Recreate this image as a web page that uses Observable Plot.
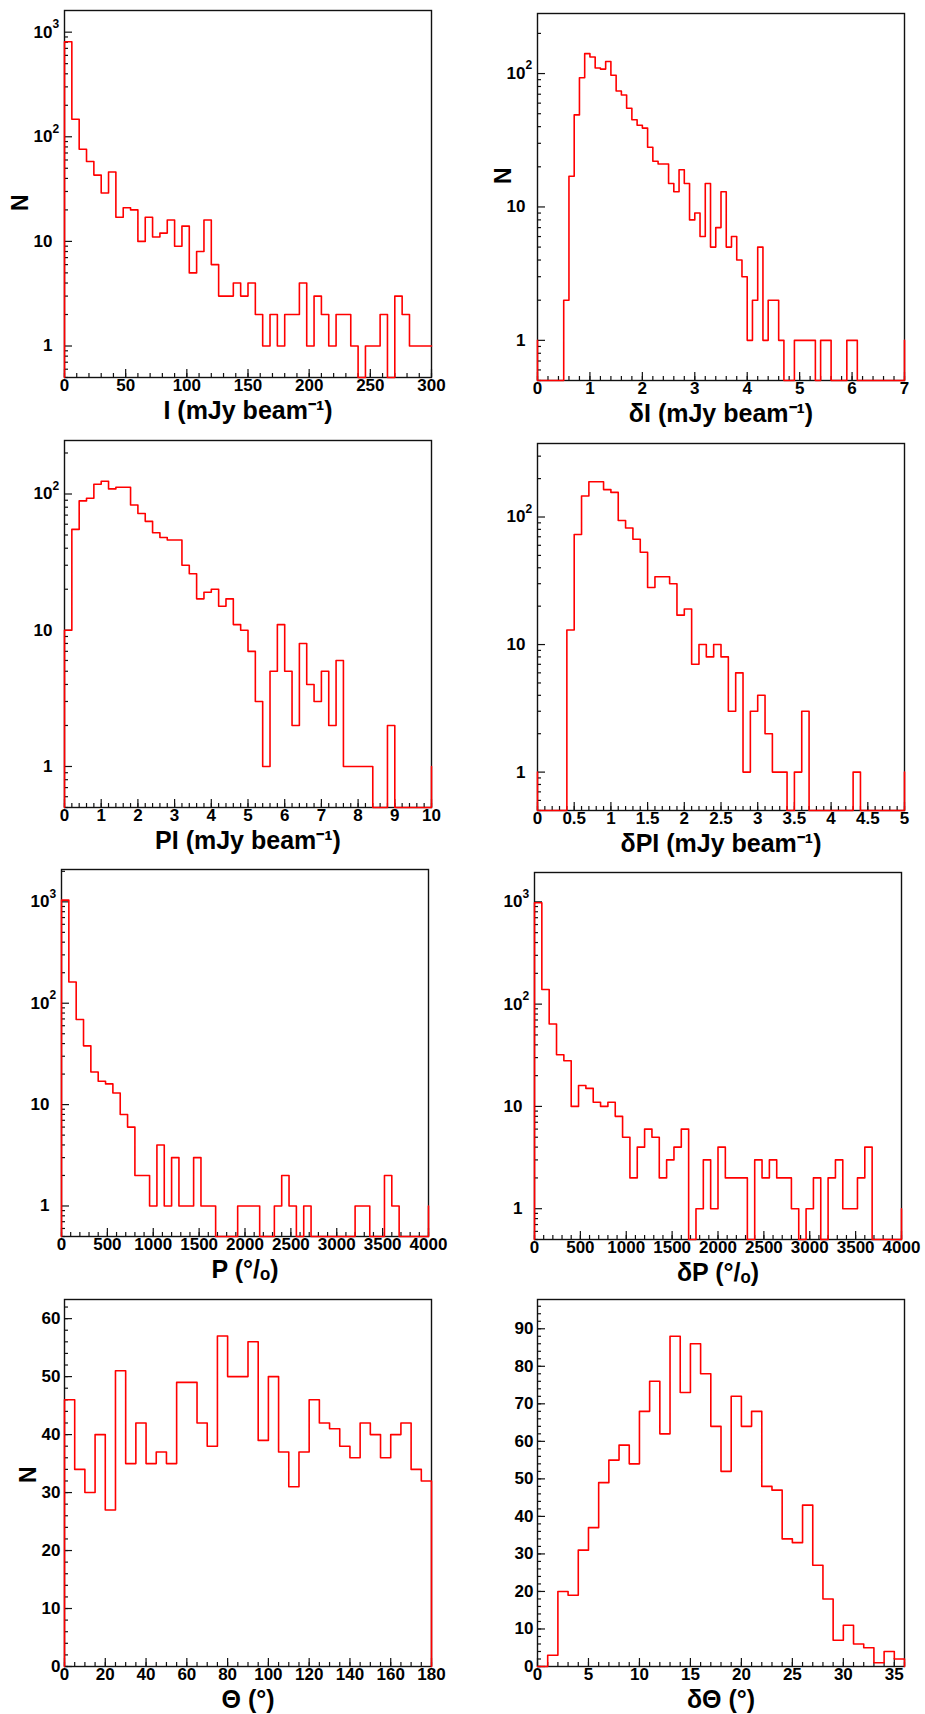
<!DOCTYPE html>
<html><head><meta charset="utf-8">
<script src="https://cdn.jsdelivr.net/npm/d3@7"></script>
<script src="https://cdn.jsdelivr.net/npm/@observablehq/plot@0.6"></script>
<style>
body{margin:0;background:#fff;}
#wrap{position:relative;width:925px;height:1714px;background:#fff;overflow:hidden;}
#wrap svg{position:absolute;}
</style></head><body><div id="wrap"></div>
<script>
// ---------------- data (bin counts) ----------------
const countsI = [811,147,76,58,43,29,46,17,21,20, 10,17,11,12,16,9,14,5,8,16, 6,3,3,4,3,4,2,1,2,1, 2,2,4,1,3,2,1,2,2,1, 0,1,1,2,0,3,2,1,1,1];
const countsDI = [0,0,0,0,0,2,17,49,93,141, 133,110,108,123,97,74,69,55,45,41, 39,28,22,21,21,15,13,19,15,8, 9,6,15,5,7,13,5,6,4,3, 1,2,5,1,2,2,1,0,0,1, 1,1,1,0,1,1,0,0,0,1, 1,0,0,0,0,0,0,0,0,0];
const countsPI = [10,55,89,93,118,124,109,112,112,83, 72,63,52,48,46,46,30,26,17,19, 20,15,17,11,10,7,3,1,5,11, 5,2,8,4,3,5,2,6,1,1, 1,1,0,0,2,0,0,0,0,0];
const countsDPI = [0,0,0,0,13,73,146,189,189,164, 156,94,82,67,53,28,34,34,30,17, 19,7,10,8,10,8,3,6,1,3, 4,2,1,1,0,1,3,0,0,0, 0,0,0,1,0,0,0,0,0,0];
const countsP = [1039,162,69,38,21,17,16,13,8,6, 2,2,1,4,1,3,1,1,3,1, 1,0,0,0,1,1,1,0,0,1, 2,1,0,1,0,0,0,0,0,0, 1,1,0,0,2,1,0,0,0,0];
const countsDP = [980,139,64,32,28,10,16,15,11,10, 11,8,5,2,4,6,5,2,3,4, 6,0,1,3,1,4,2,2,2,0, 3,2,3,2,2,1,0,1,2,0, 2,3,1,1,2,4,0,0,0,0];
const countsTheta = [46,34,30,40,27,51,35,42,35,37,35,49,49,42,38,57,50,50,56,39,50,37,31,37,46,42,41,38,36,42,40,36,40,42,34,32];
const countsDTheta = [0,3,20,19,31,37,49,55,59,54,68,76,62,88,73,86,78,64,52,72,64,68,48,47,34,33,43,27,18,7,11,6,5,1,4,2];

// bin widths
const binWidths = [6, 0.1, 0.2, 0.1, 80, 80, 5, 1];
// level of the outline at the left / right edges of the range (under/overflow)
const leftEdge  = [null, 1, null, 1, null, null, null, null];
const rightEdge = [1, 1, 1, 1, 1, 1, null, null];

// axis titles
const titles = ["I (mJy beam\u207B\u00B9)", "\u03B4I (mJy beam\u207B\u00B9)", "PI (mJy beam\u207B\u00B9)", "\u03B4PI (mJy beam\u207B\u00B9)",
  "P (\u00B0/\u2092)", "\u03B4P (\u00B0/\u2092)", "\u0398 (\u00B0)", "\u03B4\u0398 (\u00B0)"];

// tick labels
const xTicksI = [0,50,100,150,200,250,300];
const xTicksDI = [0,1,2,3,4,5,6,7];
const xTicksPI = [0,1,2,3,4,5,6,7,8,9,10];
const xTicksDPI = [0,0.5,1,1.5,2,2.5,3,3.5,4,4.5,5];
const xTicksP = [0,500,1000,1500,2000,2500,3000,3500,4000];
const xTicksTheta = [0,20,40,60,80,100,120,140,160,180];
const xTicksDTheta = [0,5,10,15,20,25,30,35];
const yTicksTheta = [0,10,20,30,40,50,60];
const yTicksDTheta = [0,10,20,30,40,50,60,70,80,90];
const logDecades = [1,10,100,1000];

// ---------------- layout / styles ----------------
const FW = 367, FH = 367, ML = 60, MR = 20, MT = 12, MB = 58;
const RED = "#ff0000";
const FONT = "Liberation Sans, Arial, sans-serif";

const panels = [
  {counts: countsI,  xDom:[0,300], yType:"log", yDom:[0.5,1611], xT:xTicksI, xMinor:10, left:64,  top:10,  N:{dx:-44, dy:17}},
  {counts: countsDI, xDom:[0,7],   yType:"log", yDom:[0.5,282],  xT:xTicksDI, xMinor:0.2, left:537, top:13, N:{dx:-34, dy:-13}},
  {counts: countsPI, xDom:[0,10],  yType:"log", yDom:[0.5,247],  xT:xTicksPI, xMinor:0.2, left:64,  top:440},
  {counts: countsDPI,xDom:[0,5],   yType:"log", yDom:[0.5,377],  xT:xTicksDPI, xMinor:0.1, left:537, top:443},
  {counts: countsP,  xDom:[0,4000],yType:"log", yDom:[0.5,2085], xT:xTicksP, xMinor:100, left:61,  top:869},
  {counts: countsDP, xDom:[0,4000],yType:"log", yDom:[0.5,1936], xT:xTicksP, xMinor:100, left:534, top:872},
  {counts: countsTheta, xDom:[0,180], yType:"linear", yDom:[0,63.3], xT:xTicksTheta, xMinor:5, yT:yTicksTheta, yMinor:2, left:64, top:1299, N:{dx:-36, dy:0}},
  {counts: countsDTheta,xDom:[0,36],  yType:"linear", yDom:[0,97.8], xT:xTicksDTheta, xMinor:1, yT:yTicksDTheta, yMinor:2, left:537, top:1299}
];

function outline(counts, x0, w, ymin, le, re) {
  const c = v => Math.max(v, ymin);
  const pts = [{x: x0, y: le ?? ymin}];
  counts.forEach((v, i) => { pts.push({x: x0 + i * w, y: c(v)}, {x: x0 + (i + 1) * w, y: c(v)}); });
  pts.push({x: x0 + counts.length * w, y: re ?? ymin});
  return pts;
}

function range(a, b, s) { const out = []; const n = Math.round((b - a) / s); for (let i = 0; i <= n; i++) out.push(+(a + i * s).toFixed(6)); return out; }

const supMap = {100: "2", 1000: "3"};
const wrap = document.getElementById("wrap");

panels.forEach((p, k) => {
  const [ymin, ymax] = p.yDom;
  const pts = outline(p.counts, p.xDom[0], binWidths[k], ymin, leftEdge[k], rightEdge[k]);
  const xMinorTicks = range(p.xDom[0], p.xDom[1], p.xMinor);
  let yMajor, yMinorTicks;
  if (p.yType === "log") {
    yMajor = logDecades.filter(d => d >= ymin && d <= ymax);
    yMinorTicks = [];
    [0.1, 1, 10, 100, 1000].forEach(dec => { for (let m = 2; m <= 9; m++) { const v = m * dec; if (v >= ymin && v <= ymax) yMinorTicks.push(v); } });
  } else {
    yMajor = p.yT;
    yMinorTicks = range(0, ymax, p.yMinor).filter(v => v <= ymax);
  }
  const marks = [
    Plot.frame({stroke: "#111", strokeWidth: 1.4}),
    Plot.ruleX(xMinorTicks, {x: d => d, insetTop: FH - 4, stroke: "#111", strokeWidth: 1.2}),
    Plot.ruleX(p.xT, {x: d => d, insetTop: FH - 8, stroke: "#111", strokeWidth: 1.2}),
    Plot.ruleY(yMinorTicks, {y: d => d, insetRight: FW - 4, stroke: "#111", strokeWidth: 1.2}),
    Plot.ruleY(yMajor, {y: d => d, insetRight: FW - 8, stroke: "#111", strokeWidth: 1.2}),
    Plot.line(pts, {x: "x", y: "y", stroke: RED, strokeWidth: 1.6}),
    Plot.axisX(p.xT, {anchor: "bottom", tickSize: 0, tickPadding: 1, fontSize: 17, fontWeight: "bold", tickFormat: d => String(d), label: null}),
    Plot.text([titles[k]], {frameAnchor: "bottom", dy: 41, lineAnchor: "bottom", fontSize: 25, fontWeight: "bold"})
  ];
  if (p.yType === "log") {
    marks.push(
      Plot.text(yMajor, {x: p.xDom[0], y: d => d, text: d => d >= 10 ? "10" : "1", textAnchor: "end", dx: -12, fontSize: 17, fontWeight: "bold"}),
      Plot.text(yMajor.filter(d => supMap[d]), {x: p.xDom[0], y: d => d, text: d => supMap[d], textAnchor: "start", dx: -12, dy: -8, fontSize: 12, fontWeight: "bold"})
    );
  } else {
    marks.push(Plot.axisY(yMajor, {anchor: "left", tickSize: 0, tickPadding: 4, fontSize: 17, fontWeight: "bold", tickFormat: d => String(d), label: null}));
  }
  if (p.N) {
    marks.push(Plot.text(["N"], {frameAnchor: "left", dx: p.N.dx, dy: p.N.dy, rotate: -90, fontSize: 23, fontWeight: "bold"}));
  }
  const svg = Plot.plot({
    width: ML + FW + MR, height: MT + FH + MB,
    marginLeft: ML, marginRight: MR, marginTop: MT, marginBottom: MB,
    style: {fontFamily: FONT, color: "#000", background: "transparent", overflow: "visible"},
    x: {domain: p.xDom, axis: null},
    y: {type: p.yType, domain: p.yDom, axis: null},
    marks
  });
  svg.style.left = (p.left - ML) + "px";
  svg.style.top = (p.top - MT) + "px";
  wrap.appendChild(svg);
});
</script>
</body></html>
